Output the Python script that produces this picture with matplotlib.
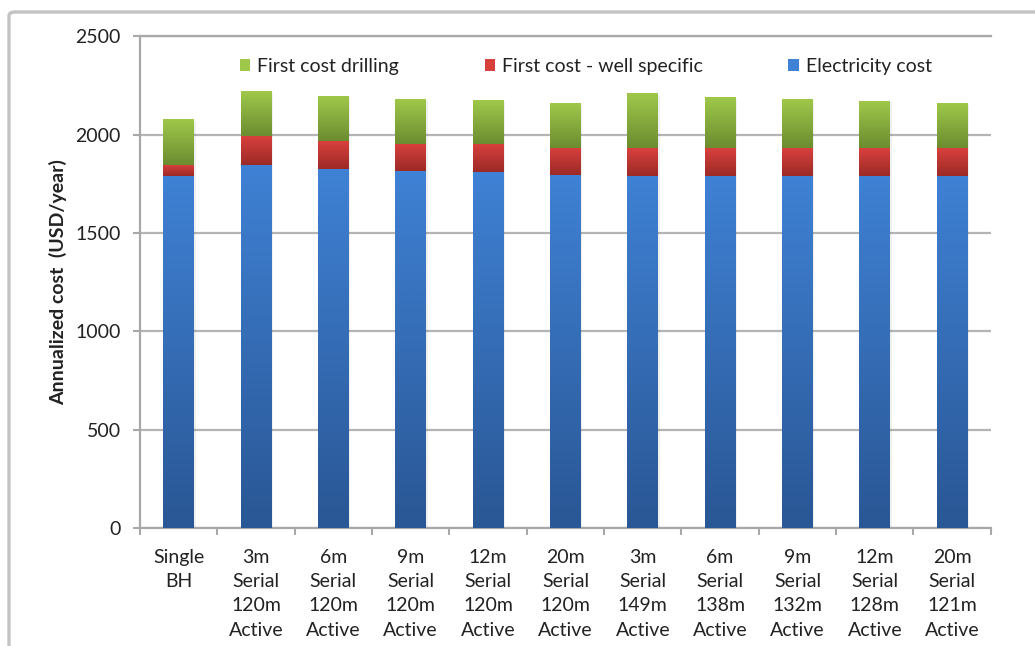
import numpy as np
import matplotlib.pyplot as plt
from matplotlib.patches import Patch, FancyBboxPatch
from matplotlib.colors import LinearSegmentedColormap

# Configurations compared (multi-line tick labels)
configs = [
    "Single\nBH",
    "3m\nSerial\n120m\nActive",
    "6m\nSerial\n120m\nActive",
    "9m\nSerial\n120m\nActive",
    "12m\nSerial\n120m\nActive",
    "20m\nSerial\n120m\nActive",
    "3m\nSerial\n149m\nActive",
    "6m\nSerial\n138m\nActive",
    "9m\nSerial\n132m\nActive",
    "12m\nSerial\n128m\nActive",
    "20m\nSerial\n121m\nActive",
]

# Annualized cost components (USD/year)
electricity_cost = [1790, 1848, 1828, 1814, 1809, 1794, 1792, 1792, 1792, 1792, 1792]
well_specific_cost = [58, 144, 142, 141, 145, 139, 141, 141, 141, 141, 141]
drilling_cost = [229, 224, 226, 224, 220, 224, 277, 255, 246, 238, 224]

# Series colours: (top of segment, bottom of segment)
shades = {
    'Electricity cost': ('#3f81d4', '#2a5795'),
    'First cost - well specific': ('#d8403d', '#9c2a27'),
    'First cost drilling': ('#9fc84a', '#6c8c30'),
}

plt.rcParams['font.family'] = ['Lato', 'DejaVu Sans']

fig = plt.figure(figsize=(10.35, 6.46), dpi=100)
ax = fig.add_axes([0.1353, 0.1827, 0.822, 0.761])

# Light grey frame round the whole chart
frame = FancyBboxPatch((9 / 1035, -0.2), 1.2, 1 - 12 / 646 + 0.2,
                       boxstyle="round,pad=0,rounding_size=0.006",
                       transform=fig.transFigure, fill=False,
                       edgecolor='#c3c3c3', linewidth=2.4, zorder=0)
fig.patches.append(frame)

x = np.arange(len(configs))
bar_w = 0.4


def gradient_bar(xc, bottom, height, top_col, bot_col):
    cmap = LinearSegmentedColormap.from_list('g', [bot_col, top_col])
    grad = np.linspace(0, 1, 64).reshape(-1, 1)
    ax.imshow(grad, cmap=cmap, origin='lower', aspect='auto',
              extent=(xc - bar_w / 2, xc + bar_w / 2, bottom, bottom + height),
              interpolation='bicubic', zorder=3)
    # faint drop shadow to the right
    ax.bar(xc + 0.02, height, bar_w, bottom=bottom - 6, color='#000000',
           alpha=0.06, linewidth=0, zorder=2)


series = [
    ('Electricity cost', electricity_cost),
    ('First cost - well specific', well_specific_cost),
    ('First cost drilling', drilling_cost),
]

bottoms = np.zeros(len(configs))
for name, vals in series:
    top_col, bot_col = shades[name]
    for i, v in enumerate(vals):
        gradient_bar(x[i], bottoms[i], v, top_col, bot_col)
    bottoms += np.array(vals)

ax.set_xlim(-0.5, len(configs) - 0.5)
ax.set_ylim(0, 2500)
ax.set_yticks(np.arange(0, 2501, 500))
ax.yaxis.grid(True, color='#b4b4b4', linewidth=1.6, zorder=0)
ax.set_axisbelow(True)

# Ticks on category boundaries, labels centred under bars
ax.set_xticks(np.arange(-0.5, len(configs), 1.0))
ax.set_xticklabels([])
ax.set_xticks(x, configs, minor=True)
ax.tick_params(axis='x', which='major', length=5, width=1.5, color='#a8a8a8',
               direction='out')
ax.tick_params(axis='x', which='minor', length=0, pad=15, labelsize=14,
               labelcolor='#222222')
ax.tick_params(axis='y', length=5, width=1.5, color='#a8a8a8', pad=9,
               labelsize=14, labelcolor='#222222')
for lbl in ax.get_xticklabels(minor=True):
    lbl.set_multialignment('center')
    lbl.set_linespacing(1.52)

ax.spines['right'].set_visible(False)
for side in ('left', 'bottom', 'top'):
    ax.spines[side].set_color('#a8a8a8')
    ax.spines[side].set_linewidth(1.6)

ax.set_ylabel('Annualized cost  (USD/year)', fontsize=14, fontweight='bold',
              color='#222222', labelpad=6)

handles = [Patch(facecolor=shades[n][0], edgecolor='none', label=n)
           for n in ('First cost drilling', 'First cost - well specific',
                     'Electricity cost')]
ax.legend(handles=handles, loc='upper center', bbox_to_anchor=(0.524, 0.992),
          ncol=3, frameon=False, fontsize=14, handlelength=0.55,
          handleheight=0.55, handletextpad=0.35, columnspacing=4.4,
          labelcolor='#222222')

fig.savefig('out.png', dpi=100)
